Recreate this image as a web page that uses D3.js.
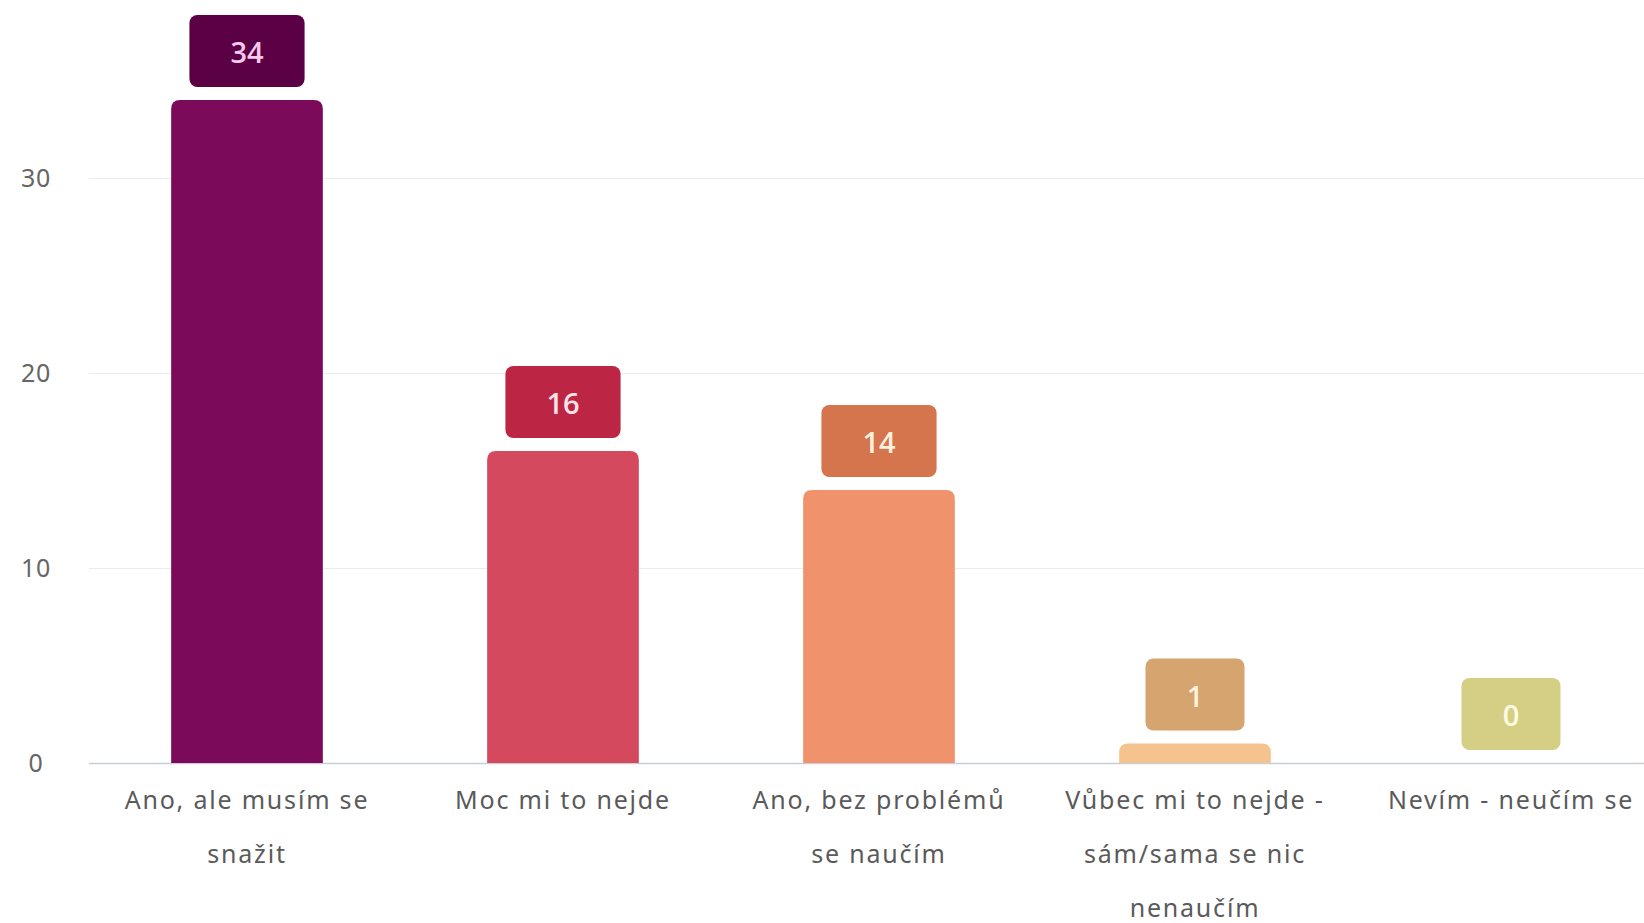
<!DOCTYPE html>
<html>
<head>
<meta charset="utf-8">
<script src="https://cdn.jsdelivr.net/npm/d3@7"></script>
<style>
  html, body { margin: 0; padding: 0; background: #fff; }
  svg { display: block; }
</style>
</head>
<body>
<div class="graph"></div>
<script>
// data
const categories = [
  "Ano, ale musím se snažit",
  "Moc mi to nejde",
  "Ano, bez problémů se naučím",
  "Vůbec mi to nejde - sám/sama se nic nenaučím",
  "Nevím - neučím se"
];
const values = [34, 16, 14, 1, 0];
const yTicks = [0, 10, 20, 30];

const barColors = ["#7b0b5a", "#d4495d", "#f0936c", "#f5c38e", "#e4dfa0"];
const boxColors = ["#5b0044", "#bc2543", "#d4754e", "#d6a46e", "#d5cf86"];
const boxText = ["#f6c8ea", "#fde2e8", "#fff0df", "#fff3df", "#fffbe2"];

const width = 1644, height = 923;

const svg = d3.select(".graph").append("svg")
  .attr("width", width)
  .attr("height", height);

// x band runs past the right edge, like the original (last label is cut)
const x = d3.scaleBand().domain(categories).range([89, 1669]).paddingInner(0.52).paddingOuter(0.26);
const y = d3.scaleLinear().domain([0, 30]).range([763, 178]);

//grid lines
svg.append("g").selectAll("line")
  .data(yTicks)
  .join("line")
  .attr("x1", 89)
  .attr("x2", width)
  .attr("y1", d => y(d) + 0.5)
  .attr("y2", d => y(d) + 0.5)
  .attr("stroke", d => d === 0 ? "#c9cdd5" : "#ececec")
  .attr("stroke-width", d => d === 0 ? 1.5 : 1.2);

//tick labels
svg.append("g").selectAll("text")
  .data(yTicks)
  .join("text")
  .attr("x", 36)
  .attr("y", d => y(d))
  .attr("dy", "0.35em")
  .attr("text-anchor", "middle")
  .attr("font-family", "Noto Sans, sans-serif")
  .attr("font-size", 25)
  .attr("letter-spacing", 0.8)
  .attr("fill", "#666")
  .text(d => d);

// bars with rounded top only
const r = 9;
function barPath(d, i) {
  const x0 = x(categories[i]), w = x.bandwidth();
  const yt = y(d), yb = y(0);
  if (d <= 0) return "";
  const rr = Math.min(r, (yb - yt));
  return `M${x0},${yb}V${yt + rr}Q${x0},${yt} ${x0 + rr},${yt}H${x0 + w - rr}Q${x0 + w},${yt} ${x0 + w},${yt + rr}V${yb}Z`;
}
svg.append("g").selectAll("path")
  .data(values)
  .join("path")
  .attr("d", barPath)
  .attr("fill", (d, i) => barColors[i]);

// value boxes
const labels = svg.append("g").selectAll("g")
  .data(values)
  .join("g")
  .attr("transform", (d, i) => `translate(${x(categories[i]) + x.bandwidth() / 2},${y(d) - 13})`);

labels.each(function (d, i) {
  const g = d3.select(this);
  const rect = g.append("rect").attr("fill", boxColors[i]).attr("rx", 8);
  const t = g.append("text")
    .attr("text-anchor", "middle")
    .attr("y", -34)
    .attr("dy", "0.36em")
    .attr("font-family", "Open Sans, sans-serif")
    .attr("font-weight", 600)
    .attr("font-size", 29)
    .attr("fill", boxText[i])
    .text(d);
  const tw = t.node().getComputedTextLength();
  const bw = Math.max(tw + 82, 99);
  rect.attr("x", -bw / 2).attr("y", -72).attr("width", bw).attr("height", 72);
});

// category labels, wrapped
function wrap(text, maxWidth) {
  text.each(function () {
    const el = d3.select(this);
    const words = el.text().split(/\s+/);
    el.text(null);
    let line = [];
    let tspan = el.append("tspan").attr("x", el.attr("x")).attr("dy", 0);
    for (const w of words) {
      line.push(w);
      tspan.text(line.join(" "));
      if (tspan.node().getComputedTextLength() > maxWidth && line.length > 1) {
        line.pop();
        tspan.text(line.join(" "));
        line = [w];
        tspan = el.append("tspan").attr("x", el.attr("x")).attr("dy", 54).text(w);
      }
    }
  });
}

svg.append("g").selectAll("text")
  .data(categories)
  .join("text")
  .attr("x", d => x(d) + x.bandwidth() / 2)
  .attr("y", 809)
  .attr("text-anchor", "middle")
  .attr("font-family", "Noto Sans, sans-serif")
  .attr("font-size", 25)
  .attr("letter-spacing", 1.8)
  .attr("fill", "#5a5a5a")
  .text(d => d)
  .call(wrap, 285);
</script>
</body>
</html>
